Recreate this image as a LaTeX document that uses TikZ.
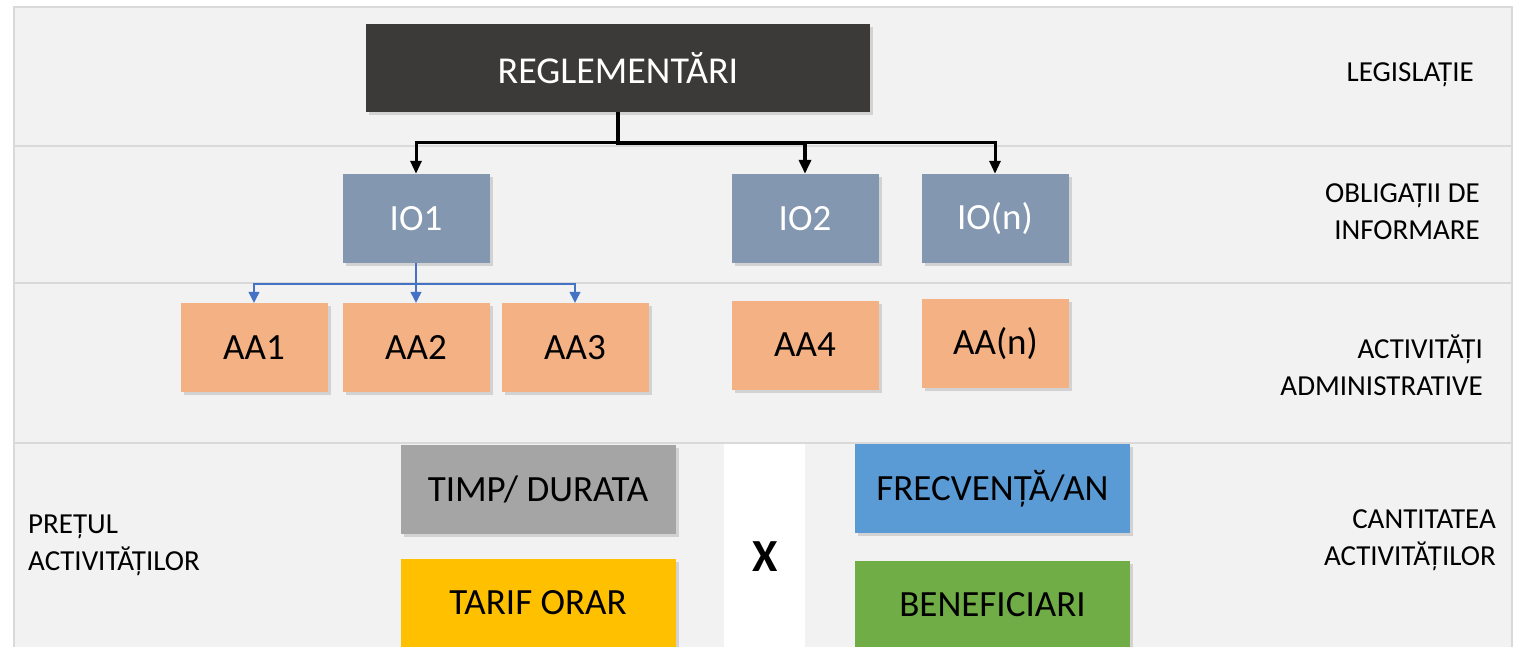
\documentclass[tikz,border=0pt]{standalone}
\usepackage{fontspec}
\setmainfont{Carlito}
\usetikzlibrary{arrows.meta,shadows}
\definecolor{panelbg}{HTML}{F2F2F2}
\definecolor{bordergray}{HTML}{D9D9D9}
\definecolor{regc}{HTML}{3B3A38}
\definecolor{ioc}{HTML}{8497B0}
\definecolor{aac}{HTML}{F4B183}
\definecolor{timpc}{HTML}{A5A5A5}
\definecolor{tarifc}{HTML}{FFC000}
\definecolor{frecc}{HTML}{5B9BD5}
\definecolor{benc}{HTML}{70AD47}
\definecolor{bluec}{HTML}{4472C4}
\begin{document}
\begin{tikzpicture}[x=1pt,y=-1pt,
  box/.style={rectangle, inner sep=0pt, draw=none,
    drop shadow={shadow xshift=3pt,shadow yshift=-3pt,opacity=0.28},
    font=\fontsize{37}{40}\selectfont},
  iobox/.style={box, fill=ioc, text=white, minimum width=147pt, minimum height=89pt},
  aabox/.style={box, fill=aac, text=black, minimum width=147pt, minimum height=89pt},
  bigbox/.style={box, minimum width=275pt, minimum height=89pt},
  lbl/.style={inner sep=0pt, font=\fontsize{29}{37}\selectfont},
  blk/.style={draw=black, line width=3pt, -{Triangle[length=13pt,width=11pt]}},
  blkthick/.style={draw=black, line width=4.5pt, -{Triangle[length=14pt,width=12pt]}},
  bl/.style={draw=bluec, line width=1.2pt, -{Triangle[length=11pt,width=11pt]}},
  divider/.style={draw=bordergray, line width=2pt}
]
\useasboundingbox (0,0) rectangle (1516,647);
\fill[white] (0,0) rectangle (1516,647);
\draw[divider, fill=panelbg] (14,7) rectangle (1512,700);
\draw[divider] (14,146) -- (1512,146);
\draw[divider] (14,283) -- (1512,283);
\draw[divider] (14,443) -- (1512,443);
\fill[white] (724,444) rectangle (805,700);

% nodes
\node[box, fill=regc, text=white, minimum width=504pt, minimum height=88pt,
  font=\fontsize{38}{40}\selectfont] (reg) at (618,68) {REGLEMENTĂRI};
\node[iobox] (io1) at (416,218.5) {IO1};
\node[iobox] (io2) at (805,218.5) {IO2};
\node[iobox] (ion) at (995,218.5) {IO(n)};
\node[aabox] (aa1) at (254,347.5) {AA1};
\node[aabox] (aa2) at (416,347.5) {AA2};
\node[aabox] (aa3) at (575,347.5) {AA3};
\node[aabox] (aa4) at (805,345) {AA4};
\node[aabox] (aan) at (995.5,343.5) {AA(n)};
\node[bigbox, fill=timpc] (timp) at (538,489) {TIMP/ DURATA};
\node[bigbox, fill=tarifc] (tarif) at (538,603) {TARIF ORAR};
\node[bigbox, fill=frecc] (frec) at (992.5,488.5) {FRECVENȚĂ/AN};
\node[bigbox, fill=benc] (ben) at (992.5,605) {BENEFICIARI};
\node[inner sep=0pt, font=\bfseries\fontsize{46}{46}\selectfont] (times) at (765,557) {X};

% labels
\node[lbl, anchor=east] (lleg) at (1474,75) {LEGISLAȚIE};
\node[lbl, anchor=east, align=right] (lobl) at (1480,211.5) {OBLIGAȚII DE\\INFORMARE};
\node[lbl, anchor=east, align=right] (lact) at (1483,365) {ACTIVITĂȚI\\ADMINISTRATIVE};
\node[lbl, anchor=east, align=right] (lcant) at (1496,540) {CANTITATEA\\ACTIVITĂȚILOR};
\node[lbl, anchor=west, align=left] (lpret) at (28,545) {PREȚUL\\ACTIVITĂȚILOR};

% connectors
\coordinate (bus) at (0,143);
\coordinate (bbus) at (0,284);
\draw[blk] (reg.south |- bus) -| (io1.north);
\draw[blk] (reg.south |- bus) -| (ion.north);
\draw[blkthick] (reg.south) -- (reg.south |- bus) -| (io2.north);
\draw[bl] (io1.south) -- (io1.south |- bbus) -| (aa1.north);
\draw[bl] (io1.south |- bbus) -- (aa2.north);
\draw[bl] (io1.south |- bbus) -| (aa3.north);
\end{tikzpicture}
\end{document}
